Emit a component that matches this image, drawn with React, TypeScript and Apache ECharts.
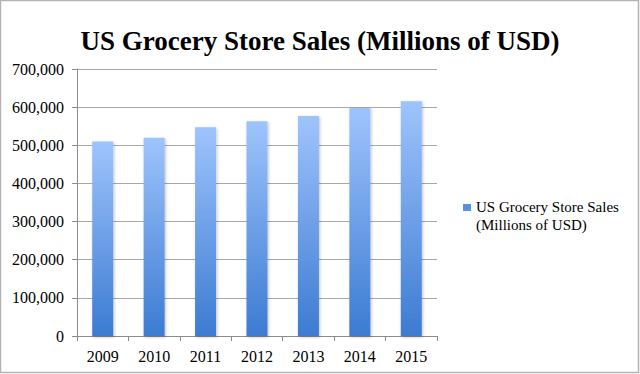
import React, { useEffect, useRef } from "react";
import * as echarts from "echarts";

const categories = ["2009", "2010", "2011", "2012", "2013", "2014", "2015"];
const salesValues = [510000, 520000, 547000, 563000, 576500, 597500, 615500];
const seriesName = "US Grocery Store Sales (Millions of USD)";
const titleText = "US Grocery Store Sales (Millions of USD)";

export default function App() {
  const ref = useRef<HTMLDivElement>(null);
  useEffect(() => {
    if (!ref.current) return;
    const chart = echarts.init(ref.current, null, { renderer: "svg" });
    const font = "'Liberation Serif', 'DejaVu Serif', serif";
    chart.setOption({
      animation: false,
      backgroundColor: "#ffffff",
      title: {
        text: titleText,
        left: "center",
        top: 22,
        textStyle: { fontFamily: font, fontWeight: "bold", fontSize: 27, color: "#000" },
      },
      graphic: [
        {
          type: "rect",
          shape: { x: 0.5, y: 0.5, width: 638, height: 372 },
          style: { fill: "none", stroke: "#b4b4b4", lineWidth: 1.5 },
          silent: true,
        },
      ],
      legend: {
        left: 458,
        top: 193,
        orient: "vertical",
        itemWidth: 8,
        itemHeight: 36,
        itemGap: 4,
        icon: "path://M0,0 M0,36 M0,6 L8,6 L8,13 L0,13 Z",
        formatter: () => "US Grocery Store Sales\n(Millions of USD)",
        textStyle: { fontFamily: font, fontSize: 15, lineHeight: 18, color: "#000" },
        data: [{ name: seriesName, itemStyle: { color: "#5a90e0" } }],
      },
      grid: { left: 77, right: 203, top: 69, bottom: 38 },
      xAxis: {
        type: "category",
        data: categories,
        axisLine: { show: true, lineStyle: { color: "#8c8c8c", width: 1 } },
        axisTick: { show: true, length: 5, alignWithLabel: false, lineStyle: { color: "#8c8c8c" } },
        axisLabel: { fontFamily: font, fontSize: 16, color: "#000", margin: 12 },
      },
      yAxis: {
        type: "value",
        min: 0,
        max: 700000,
        interval: 100000,
        axisLine: { show: true, lineStyle: { color: "#8c8c8c", width: 1 } },
        axisTick: { show: true, length: 5, lineStyle: { color: "#8c8c8c" } },
        axisLabel: {
          fontFamily: font,
          fontSize: 16,
          color: "#000",
          margin: 13,
          formatter: (v: number) => v.toLocaleString("en-US"),
        },
        splitLine: { show: true, lineStyle: { color: "#a8a8a8", width: 1 } },
      },
      series: [
        {
          name: seriesName,
          type: "bar",
          data: salesValues,
          barWidth: 21,
          itemStyle: {
            color: new echarts.graphic.LinearGradient(0, 0, 0, 1, [
              { offset: 0, color: "#9ec4fc" },
              { offset: 1, color: "#3c7bd2" },
            ]),
            shadowColor: "rgba(0,0,0,0.25)",
            shadowBlur: 3,
            shadowOffsetX: 1,
            shadowOffsetY: 1,
          },
        },
      ],
    });
    return () => chart.dispose();
  }, []);
  return (
    <div
      ref={ref}
      style={{ position: "fixed", left: 0, top: 0, width: 640, height: 374 }}
    />
  );
}
